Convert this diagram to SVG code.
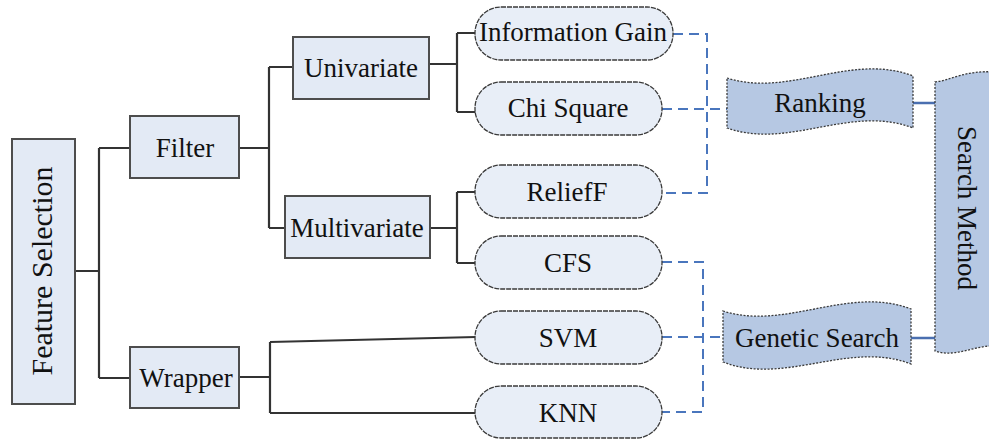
<svg xmlns="http://www.w3.org/2000/svg" width="989" height="439" viewBox="0 0 989 439">
<style>
.box{fill:#e3eaf5;stroke:#4d4d4d;stroke-width:2}
.pill{fill:#e8eef7;stroke:#3a3a3a;stroke-width:1.3;stroke-dasharray:5,1}
.tape{fill:#b6c8e3;stroke:#3a3a3a;stroke-width:1.3;stroke-dasharray:2,1.5}
.t{font-family:"Liberation Serif","Times New Roman",serif;font-size:27px;fill:#111;text-anchor:middle}
.ln{fill:none;stroke:#333;stroke-width:2.2}
.dash{fill:none;stroke:#4a76bd;stroke-width:2;stroke-dasharray:10,6}
.solid{fill:none;stroke:#4a6fb0;stroke-width:2.5}
</style>
<rect width="989" height="439" fill="#fff"/>
<g id="connectors">
<path class="ln" d="M75,271 H99 M99,148 V378 M99,148 H130 M99,378 H130"/>
<path class="ln" d="M239,148 H269 M269,67 V228 M269,67 H293 M269,228 H285"/>
<path class="ln" d="M239,377 H270 M270,342 V413 M270,342 L476,337 M270,413 H476"/>
<path class="ln" d="M430,64 H457 M457,33 V112 M457,33 H475 M457,112 H476"/>
<path class="ln" d="M430,228 H457 M457,192 V263 M457,192 H475 M457,263 H475"/>
<path class="dash" d="M673,34 H707 V193 H662"/>
<path class="dash" d="M662,109 H727"/>
<path class="dash" d="M662,262 H703 V412 H662"/>
<path class="dash" d="M662,337 H723"/>
<path class="solid" d="M913,103 H935 M911,338 H935"/>
</g>
<g id="feature-selection">
<rect class="box" x="12" y="139" width="63" height="265"/>
<text class="t" style="font-size:30px" transform="translate(52,271) rotate(-90)">Feature Selection</text>
</g>
<g id="filter">
<rect class="box" x="130" y="116" width="109" height="62"/>
<text class="t" x="185" y="157">Filter</text>
</g>
<g id="wrapper">
<rect class="box" x="130" y="347" width="109" height="61"/>
<text class="t" x="186" y="387">Wrapper</text>
</g>
<g id="univariate">
<rect class="box" x="293" y="37" width="136" height="62"/>
<text class="t" x="361" y="77">Univariate</text>
</g>
<g id="multivariate">
<rect class="box" x="285" y="196" width="145" height="62"/>
<text class="t" x="357" y="237">Multivariate</text>
</g>
<g id="information-gain">
<rect class="pill" x="475" y="7" width="198" height="53" rx="26"/>
<text class="t" x="573" y="41">Information Gain</text>
</g>
<g id="chi-square">
<rect class="pill" x="475" y="82" width="187" height="53" rx="26"/>
<text class="t" x="568" y="117">Chi Square</text>
</g>
<g id="relieff">
<rect class="pill" x="475" y="165" width="187" height="53" rx="26"/>
<text class="t" x="567" y="201">ReliefF</text>
</g>
<g id="cfs">
<rect class="pill" x="475" y="236" width="187" height="53" rx="26"/>
<text class="t" x="568" y="272">CFS</text>
</g>
<g id="svm">
<rect class="pill" x="475" y="311" width="187" height="53" rx="26"/>
<text class="t" x="568" y="347">SVM</text>
</g>
<g id="knn">
<rect class="pill" x="475" y="386" width="187" height="52" rx="26"/>
<text class="t" x="568" y="422">KNN</text>
</g>
<g id="ranking">
<path class="tape" d="M727,78 C789,98 851,52 913,76 L913,128 C851,104 789,150 727,128 Z"/>
<text class="t" x="820" y="112">Ranking</text>
</g>
<g id="genetic-search">
<path class="tape" d="M723,311 C785,331 849,285 911,309 L911,364 C849,340 785,386 723,362 Z"/>
<text class="t" x="817" y="347">Genetic Search</text>
</g>
<g id="search-method">
<path class="tape" d="M935,82 C952,80 965,70 995,72 L995,346 C975,345 955,358 935,351 Z"/>
<text class="t" transform="translate(958,208) rotate(90)">Search Method</text>
</g>
</svg>
